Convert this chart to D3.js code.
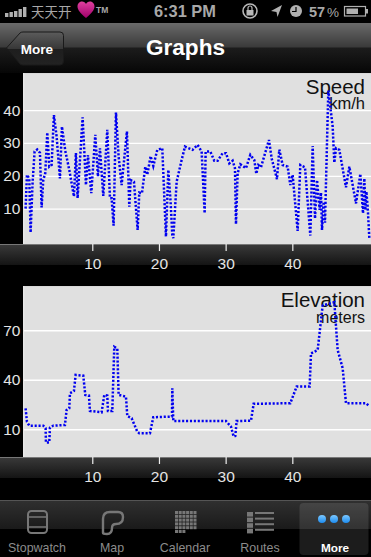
<!DOCTYPE html>
<html lang="en">
  <head>
    <meta charset="UTF-8" />
    <title>Graphs</title>
    <style>
      html, body { margin: 0; padding: 0; background: #000; }
      svg { display: block; font-family: "Liberation Sans", Arial, sans-serif; }
      .axis path { display: none; }
      .axis line { stroke: #eee; stroke-width: 1.2; }
      .axis text { fill: #e4e4e4; font-size: 15.5px; font-family: "Liberation Sans", Arial, sans-serif; }
      .grid line { stroke: #fff; stroke-width: 1.3; }
      .grid path { display: none; }
      .trace { fill: none; stroke: #0000f0; stroke-width: 2.5; stroke-dasharray: 2.1 1.8; }
    </style>
  </head>
  <body>
    <script src="https://d3js.org/d3.v7.min.js"></script>
    <script>
      const speedX = [0, 0.2, 0.55, 0.75, 1.05, 1.35, 1.75, 2.15, 2.4, 2.65, 2.95, 3.25, 3.55, 3.9, 4.25, 4.65, 5.15, 5.45, 5.95, 6.55, 7.25, 7.55, 7.8, 8.55, 9.05, 9.35, 9.85, 10.45, 10.85, 11.15, 11.65, 12.25, 12.65, 12.9, 13.2, 13.55, 13.95, 14.4, 15.2, 15.55, 15.75, 16.25, 16.8, 17.05, 17.45, 17.95, 18.25, 18.75, 19.15, 19.75, 20.5, 21.05, 21.4, 21.75, 22, 22.15, 22.65, 23.4, 23.9, 25.05, 25.8, 26.4, 26.85, 27, 27.7, 28.3, 28.8, 29.55, 30.05, 30.55, 31.05, 31.4, 31.55, 31.8, 32.2, 33.05, 33.7, 34.3, 34.6, 34.9, 35.3, 36.5, 36.9, 37.7, 38.05, 38.55, 39.3, 39.7, 40.05, 40.8, 41.2, 41.9, 42.7, 43.05, 43.4, 43.7, 44.1, 44.3, 44.45, 44.7, 44.9, 45.4, 46.05, 46.3, 46.55, 47.05, 48.05, 48.55, 49.55, 50.2, 50.6, 50.8, 50.95, 51.1, 51.3, 51.55];
      const speedY = [10, 20.3, 19.2, 2.7, 18, 27.4, 28, 27, 10.4, 18.7, 20.8, 33.2, 22.8, 23.3, 38.5, 32, 19.2, 35, 27.6, 21.8, 13.7, 26.9, 13.2, 37.8, 17.2, 26.3, 14.7, 32.5, 19.8, 28.4, 13.9, 34, 13.2, 13.2, 4.8, 39.3, 25.9, 17.2, 33.5, 10.6, 18.7, 18.2, 3.5, 14.9, 14.7, 22.8, 20.3, 26, 23, 27.9, 28.4, 1.5, 21.8, 12, 2, 1, 18.2, 24.8, 28.9, 27.9, 29.4, 27.4, 8.6, 27.4, 27.4, 24.6, 24.6, 26.9, 26.9, 23.8, 24.6, 22.3, 5.3, 20.8, 23.5, 22.3, 26.4, 24.8, 20.6, 23.3, 22.6, 30.9, 25.3, 19, 28, 23.3, 22.8, 17.2, 20.3, 3.2, 23.3, 22.6, 1.8, 29.1, 7, 18.7, 9.6, 14.9, 3.5, 12.1, 5.7, 46, 35, 24, 28.4, 27.9, 16.5, 22.8, 11.6, 20.6, 8.6, 19.2, 9.6, 15.2, 10.6, 1];
      const elevX = [0, 0.2, 0.55, 2.65, 3, 3.05, 3.55, 3.65, 4.15, 5.9, 6.15, 6.55, 6.65, 7.25, 7.5, 8.65, 8.95, 9.5, 9.65, 11.4, 11.8, 12.25, 12.35, 13, 13.3, 13.75, 13.95, 15.05, 15.25, 15.9, 16.75, 17.05, 18.65, 19.15, 21.95, 22, 22.15, 30.05, 30.8, 31.2, 31.45, 31.65, 33.8, 34.2, 39.7, 40.65, 42.6, 42.8, 43.8, 44.55, 46.3, 46.8, 47.55, 48.05, 51.05, 51.55];
      const elevY = [22.7, 14.6, 12.2, 12.2, 10.6, 2, 2, 11, 12.2, 12.6, 21.7, 22.7, 31.8, 33.2, 42.9, 42.5, 30.8, 30.4, 21.1, 20.3, 30.8, 30.4, 21, 21, 60, 59, 30.8, 29.8, 18, 16.7, 8.6, 7.6, 7.6, 17.3, 17.7, 34.8, 15, 15, 11.6, 5.6, 6, 15, 15.2, 25.4, 25.8, 35.9, 35.9, 56, 58, 85, 87, 58, 47, 25.8, 25.8, 24];
      const xTicks = [10, 20, 30, 40];
      const speedTicks = [10, 20, 30, 40];
      const elevTicks = [10, 40, 70];
      const tabLabels = ['Stopwatch', 'Map', 'Calendar', 'Routes', 'More'];

      const W = 371;
      const H = 557;
      const svg = d3.select('body').append('svg').attr('width', W).attr('height', H);
      const defs = svg.append('defs');

      const addGrad = (id, stops) => {
        const g = defs.append('linearGradient').attr('id', id).attr('x1', 0).attr('x2', 0).attr('y1', 0).attr('y2', 1);
        stops.forEach(([o, c]) => g.append('stop').attr('offset', o).attr('stop-color', c));
      };
      addGrad('nav', [[0, '#6a6a6a'], [0.48, '#3a3a3a'], [0.5, '#1c1c1c'], [1, '#060606']]);
      addGrad('btn', [[0, '#5c5c5c'], [0.5, '#383838'], [0.52, '#1e1e1e'], [1, '#222']]);
      addGrad('band', [[0, '#3a3a3a'], [1, '#141414']]);
      addGrad('tab', [[0, '#303030'], [1, '#1a1a1a']]);
      addGrad('heart', [[0, '#e0409f'], [1, '#a0006a']]);
      addGrad('dot', [[0, '#7cc8ff'], [1, '#1c8cf0']]);

      const label = (x, y, text, size, fill, anchor = 'start', weight = 400, family = null) => {
        const t = svg.append('text').attr('x', x).attr('y', y).attr('text-anchor', anchor)
          .attr('font-size', size).attr('font-weight', weight).attr('fill', fill).text(text);
        if (family) t.attr('font-family', family);
        return t;
      };

      // status bar
      [[5, 7, 3], [9.5, 6, 4], [14, 5, 5], [18.5, 3, 7], [23, 1, 9]].forEach(([x, dy, h]) => {
        svg.append('rect').attr('x', x).attr('y', 6 + dy).attr('width', 3.4).attr('height', h + 1).attr('fill', '#b0b0b0');
      });
      label(31, 17, '天天开', 13.5, '#a8a8a8', 'start', 400, '"Noto Sans CJK SC"');
      svg.append('path').attr('fill', 'url(#heart)')
        .attr('d', 'M86 18 C80 13 77.5 9.5 77.5 6.5 C77.5 3 80 1.5 82 1.5 C84 1.5 85.3 2.6 86 4 C86.7 2.6 88 1.5 90 1.5 C92 1.5 94.5 3 94.5 6.5 C94.5 9.5 92 13 86 18 Z');
      label(96, 13, 'TM', 8.5, '#a8a8a8', 'start', 700);
      label(154, 17, '6:31 PM', 16.4, '#a8a8a8', 'start', 700);
      svg.append('circle').attr('cx', 250).attr('cy', 11).attr('r', 7).attr('fill', 'none').attr('stroke', '#b8b8b8').attr('stroke-width', 1.6);
      svg.append('rect').attr('x', 246.5).attr('y', 10).attr('width', 7).attr('height', 5.5).attr('fill', '#b8b8b8');
      svg.append('path').attr('d', 'M248 10 V8 a2 2 0 0 1 4 0 V10').attr('fill', 'none').attr('stroke', '#b8b8b8').attr('stroke-width', 1.2);
      svg.append('path').attr('d', 'M282 5 L271 11 L276.5 12 L277.5 17 Z').attr('fill', '#b0b0b0');
      svg.append('circle').attr('cx', 296).attr('cy', 11).attr('r', 6).attr('fill', '#b0b0b0');
      svg.append('path').attr('d', 'M296 7 V11.5 H292').attr('fill', 'none').attr('stroke', '#000').attr('stroke-width', 1.2);
      label(309, 17, '57', 14.5, '#a8a8a8', 'start', 700);
      label(327, 17, '%', 13.5, '#a8a8a8');
      svg.append('rect').attr('x', 344.5).attr('y', 6.5).attr('width', 21).attr('height', 9.5).attr('fill', 'none').attr('stroke', '#b0b0b0').attr('stroke-width', 1.2);
      svg.append('rect').attr('x', 346.5).attr('y', 8.5).attr('width', 11.5).attr('height', 5.5).attr('fill', '#b0b0b0');
      svg.append('rect').attr('x', 366).attr('y', 9).attr('width', 2).attr('height', 4.5).attr('fill', '#b0b0b0');

      // nav bar
      svg.append('rect').attr('x', 0).attr('y', 23).attr('width', W).attr('height', 50).attr('fill', 'url(#nav)');
      svg.append('path').attr('fill', 'url(#btn)').attr('stroke', '#1a1a1a')
        .attr('d', 'M6.5 48 L20 33 Q21 32 23 32 H60 Q63.5 32 63.5 35.5 V61 Q63.5 65 60 65 H23 Q21 65 20 64 Z');
      label(37, 53.5, 'More', 13.5, '#fff', 'middle', 700);
      label(185.5, 55, 'Graphs', 22.6, '#fff', 'middle', 700);

      // charts
      const drawChart = (cfg) => {
        const { top, bottom, xs, ys, yDomain, yTicks, title, unit, titleY, unitY, unitSize } = cfg;
        const left = 24;
        const x = d3.scaleLinear().domain([-0.24, 51.8]).range([left, W]);
        const y = d3.scaleLinear().domain(yDomain).range([bottom, top]);

        svg.append('rect').attr('x', left - 1).attr('y', top - 1).attr('width', W - left + 1).attr('height', 1).attr('fill', '#d8d8d8');
        svg.append('rect').attr('x', left).attr('y', top).attr('width', W - left).attr('height', bottom - top).attr('fill', '#e0e0e0');
        svg.append('rect').attr('x', left - 1).attr('y', top - 1).attr('width', 1.4).attr('height', bottom - top + 1).attr('fill', '#e8e8e8');
        svg.append('rect').attr('x', 0).attr('y', bottom).attr('width', W).attr('height', 21).attr('fill', 'url(#band)');
        svg.append('rect').attr('x', 0).attr('y', bottom).attr('width', W).attr('height', 1).attr('fill', '#777');

        svg.append('g').attr('class', 'grid').attr('transform', `translate(${left},0)`)
          .call(d3.axisLeft(y).tickValues(yTicks).tickSize(-(W - left)).tickFormat(''));

        svg.append('g').attr('class', 'axis').attr('transform', `translate(${left - 0.5},0)`)
          .call(d3.axisLeft(y).tickValues(yTicks).tickSize(0).tickPadding(3));

        svg.append('g').attr('class', 'axis').attr('transform', `translate(0,${bottom})`)
          .call(d3.axisBottom(x).tickValues(xTicks).tickSize(7).tickPadding(7));

        label(365, titleY, title, 20.5, '#111', 'end');
        label(365, unitY, unit, unitSize, '#111', 'end');

        const line = d3.line().x((d, i) => x(xs[i])).y((d) => y(d));
        svg.append('path').datum(ys).attr('class', 'trace').attr('d', line);
      };

      drawChart({ top: 74, bottom: 244, xs: speedX, ys: speedY, yDomain: [-0.76, 51], yTicks: speedTicks, title: 'Speed', unit: 'km/h', titleY: 93.5, unitY: 109, unitSize: 16.5 });
      drawChart({ top: 287, bottom: 457, xs: elevX, ys: elevY, yDomain: [-6.8, 96.2], yTicks: elevTicks, title: 'Elevation', unit: 'meters', titleY: 306.7, unitY: 322.7, unitSize: 16 });

      // tab bar
      svg.append('rect').attr('x', 0).attr('y', 500).attr('width', W).attr('height', 29).attr('fill', 'url(#tab)');
      svg.append('rect').attr('x', 0).attr('y', 500).attr('width', W).attr('height', 1).attr('fill', '#555');
      svg.append('rect').attr('x', 299.5).attr('y', 503).attr('width', 69).attr('height', 52).attr('rx', 4).attr('fill', '#fff').attr('opacity', 0.11);

      const tabX = [37, 112, 185, 260, 335];
      tabLabels.forEach((t, i) => {
        if (i === 4) label(tabX[i], 552, t, 11.8, '#fff', 'middle', 700);
        else label(tabX[i], 552, t, 12.4, '#8c8c8c', 'middle', 400);
      });

      const iconColor = '#777';
      svg.append('rect').attr('x', 28).attr('y', 511).attr('width', 19).attr('height', 22).attr('rx', 3.5).attr('fill', 'none').attr('stroke', iconColor).attr('stroke-width', 2);
      svg.append('path').attr('d', 'M28 517 H47 M28 527 H47').attr('stroke', iconColor).attr('stroke-width', 1.6);
      svg.append('path').attr('d', 'M103 533 V519 Q103 512 110 512 H118 Q123 512 123 517 Q123 524 116 524 Q112 524 112 528 Q112 534 107 534 Q103 534 103 533 Z')
        .attr('fill', 'none').attr('stroke', iconColor).attr('stroke-width', 2.4);
      d3.range(6).forEach((r) => d3.range(6).forEach((c) => {
        if (r === 5 && c > 2) return;
        svg.append('rect').attr('x', 175 + c * 3.7).attr('y', 511 + r * 3.8).attr('width', 3).attr('height', 3).attr('fill', iconColor);
      }));
      d3.range(4).forEach((r) => {
        svg.append('rect').attr('x', 247).attr('y', 512 + r * 5.6).attr('width', 6).attr('height', 4.6).attr('fill', iconColor);
        svg.append('rect').attr('x', 255).attr('y', 512 + r * 5.6).attr('width', 19).attr('height', 2).attr('fill', iconColor);
      });
      [323, 335, 347].forEach((cx) => {
        svg.append('circle').attr('cx', cx - 1).attr('cy', 519).attr('r', 4).attr('fill', 'url(#dot)');
      });
    </script>
  </body>
</html>
